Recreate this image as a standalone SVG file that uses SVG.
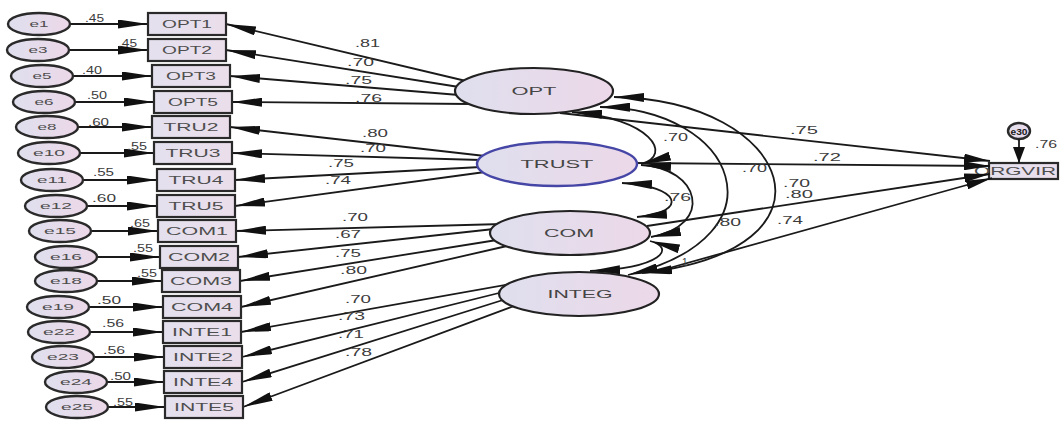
<svg xmlns="http://www.w3.org/2000/svg" width="1061" height="422" viewBox="0 0 1061 422">
  <defs>
    <linearGradient id="fillLat" x1="0" y1="0" x2="1" y2="0">
      <stop offset="0" stop-color="#dfdfee"/>
      <stop offset="1" stop-color="#ecd8e8"/>
    </linearGradient>
    <linearGradient id="fillObs" x1="0" y1="0" x2="1" y2="0">
      <stop offset="0" stop-color="#e4e0ee"/>
      <stop offset="1" stop-color="#ebdeeb"/>
    </linearGradient>
    <!-- long slim wedge used by the AMOS-style paths -->
    <marker id="ah" markerUnits="userSpaceOnUse" markerWidth="30" markerHeight="9" refX="30" refY="4.5" orient="auto-start-reverse">
      <path d="M0,0 L30,4.5 L0,9 Z" fill="#111"/>
    </marker>
    <marker id="ahm" markerUnits="userSpaceOnUse" markerWidth="26" markerHeight="9" refX="26" refY="4.5" orient="auto-start-reverse">
      <path d="M0,0 L26,4.5 L0,9 Z" fill="#111"/>
    </marker>
    <marker id="ahs" markerUnits="userSpaceOnUse" markerWidth="16" markerHeight="12" refX="16" refY="6" orient="auto">
      <path d="M0,0 L16,6 L0,12 Z" fill="#111"/>
    </marker>
  </defs>
  <style>
    text { font-family: "Liberation Sans", Arial, sans-serif; }
    .lat { fill: url(#fillLat); stroke: #222; stroke-width: 2.2; }
    .latb { fill: url(#fillLat); stroke: #4646a6; stroke-width: 2.4; }
    .obs { fill: url(#fillObs); stroke: #2a2a2a; stroke-width: 2.2; }
    .err { fill: url(#fillLat); stroke: #2a2a2a; stroke-width: 2.4; }
    .ln { fill: none; stroke: #1a1a1a; stroke-width: 1.8; }
    .a { marker-end: url(#ah); }
    .aa { marker-start: url(#ah); marker-end: url(#ah); }
    .am { marker-end: url(#ahm); }
    .nt { font-size: 10px; fill: #4e4e4e; text-anchor: middle; }
    .lt { font-size: 10px; fill: #454545; text-anchor: middle; }
    .et { font-size: 9px; fill: #4e4e4e; text-anchor: middle; }
    .v { font-size: 10px; fill: #3c3c3c; }
  </style>

  <!-- dependent observed variable and its residual (drawn under the arrowheads) -->
  <g id="ORGVIR">
    <rect class="obs" x="989" y="163" width="69" height="16"/>
    <text class="nt" x="1015" y="175" textLength="82" lengthAdjust="spacingAndGlyphs">ORGVIR</text>
  </g>
  <g id="e30">
    <ellipse class="err" cx="1019" cy="131" rx="11" ry="8"/>
    <text x="1019" y="134.5" font-size="9" font-weight="bold" fill="#1a1a1a" text-anchor="middle" textLength="17" lengthAdjust="spacingAndGlyphs">e30</text>
  </g>

  <g id="connectors">
    <!-- residual -> indicator -->
    <path class="ln a" d="M67,24 L148,24"/>
    <path class="ln a" d="M66,50 L148,50"/>
    <path class="ln a" d="M70,76 L152,76"/>
    <path class="ln a" d="M72,102 L154,102"/>
    <path class="ln a" d="M75,127 L152,127"/>
    <path class="ln a" d="M77,153 L154,153"/>
    <path class="ln a" d="M80,180 L157,180"/>
    <path class="ln a" d="M84,206 L157,206"/>
    <path class="ln a" d="M88,231 L158,231"/>
    <path class="ln a" d="M94,257 L160,257"/>
    <path class="ln a" d="M94,281 L162,281"/>
    <path class="ln a" d="M86,307 L163,307"/>
    <path class="ln a" d="M87,332 L163,332"/>
    <path class="ln a" d="M91,357 L164,357"/>
    <path class="ln a" d="M104,382 L164,382"/>
    <path class="ln a" d="M105,407 L165,407"/>

    <!-- factor loadings -->
    <path class="ln a" d="M466,81 L226,24"/>
    <path class="ln a" d="M459,87 L226,50"/>
    <path class="ln a" d="M459,95 L230,76"/>
    <path class="ln a" d="M471,104 L232,102"/>
    <path class="ln a" d="M485,156 L230,127"/>
    <path class="ln a" d="M481,160 L232,153"/>
    <path class="ln a" d="M481,167 L235,180"/>
    <path class="ln a" d="M485,172 L235,206"/>
    <path class="ln a" d="M503,224 L236,231"/>
    <path class="ln a" d="M494,229 L238,257"/>
    <path class="ln a" d="M497,240 L240,281"/>
    <path class="ln a" d="M507,246 L241,307"/>
    <path class="ln a" d="M511,284 L241,332"/>
    <path class="ln a" d="M503,292 L242,357"/>
    <path class="ln a" d="M503,300 L242,382"/>
    <path class="ln a" d="M514,306 L243,407"/>

    <!-- structural paths to ORGVIR -->
    <path class="ln am" d="M560,113 L990,161"/>
    <path class="ln am" d="M636,163 L990,166"/>
    <path class="ln am" d="M647,226 L990,174"/>
    <path class="ln am" d="M655,272 L992,178"/>
    <path class="ln" d="M1019,139 L1019,163" marker-end="url(#ahs)"/>

    <!-- covariances -->
    <path class="ln aa" d="M572,112 C650,118 674,155 641,164"/>
    <path class="ln aa" d="M622,183 C680,186 690,212 637,217"/>
    <path class="ln aa" d="M641,165 C700,168 715,225 651,237"/>
    <path class="ln aa" d="M600,107 C735,108 790,235 628,275"/>
    <path class="ln aa" d="M614,97 C792,100 852,250 642,273"/>
    <path class="ln aa" d="M650,241 C676,248 662,268 590,271"/>
  </g>

  <!-- residual terms -->
  <g id="e1"><ellipse class="err" cx="39" cy="24" rx="31" ry="11"/><text class="et" x="39" y="27" textLength="19" lengthAdjust="spacingAndGlyphs">e1</text></g>
  <g id="e3"><ellipse class="err" cx="38" cy="50" rx="31" ry="11"/><text class="et" x="38" y="53" textLength="19" lengthAdjust="spacingAndGlyphs">e3</text></g>
  <g id="e5"><ellipse class="err" cx="42" cy="76" rx="31" ry="11"/><text class="et" x="42" y="79" textLength="19" lengthAdjust="spacingAndGlyphs">e5</text></g>
  <g id="e6"><ellipse class="err" cx="44" cy="102" rx="31" ry="11"/><text class="et" x="44" y="105" textLength="19" lengthAdjust="spacingAndGlyphs">e6</text></g>
  <g id="e8"><ellipse class="err" cx="47" cy="127" rx="31" ry="11"/><text class="et" x="47" y="130" textLength="19" lengthAdjust="spacingAndGlyphs">e8</text></g>
  <g id="e10"><ellipse class="err" cx="49" cy="153" rx="31" ry="11"/><text class="et" x="49" y="156" textLength="32" lengthAdjust="spacingAndGlyphs">e10</text></g>
  <g id="e11"><ellipse class="err" cx="52" cy="180" rx="31" ry="11"/><text class="et" x="52" y="183" textLength="30" lengthAdjust="spacingAndGlyphs">e11</text></g>
  <g id="e12"><ellipse class="err" cx="56" cy="206" rx="31" ry="11"/><text class="et" x="56" y="209" textLength="32" lengthAdjust="spacingAndGlyphs">e12</text></g>
  <g id="e15"><ellipse class="err" cx="60" cy="231" rx="31" ry="11"/><text class="et" x="60" y="234" textLength="32" lengthAdjust="spacingAndGlyphs">e15</text></g>
  <g id="e16"><ellipse class="err" cx="66" cy="257" rx="31" ry="11"/><text class="et" x="66" y="260" textLength="32" lengthAdjust="spacingAndGlyphs">e16</text></g>
  <g id="e18"><ellipse class="err" cx="66" cy="281" rx="31" ry="11"/><text class="et" x="66" y="284" textLength="32" lengthAdjust="spacingAndGlyphs">e18</text></g>
  <g id="e19"><ellipse class="err" cx="58" cy="307" rx="31" ry="11"/><text class="et" x="58" y="310" textLength="32" lengthAdjust="spacingAndGlyphs">e19</text></g>
  <g id="e22"><ellipse class="err" cx="59" cy="332" rx="31" ry="11"/><text class="et" x="59" y="335" textLength="32" lengthAdjust="spacingAndGlyphs">e22</text></g>
  <g id="e23"><ellipse class="err" cx="63" cy="357" rx="31" ry="11"/><text class="et" x="63" y="360" textLength="32" lengthAdjust="spacingAndGlyphs">e23</text></g>
  <g id="e24"><ellipse class="err" cx="76" cy="382" rx="31" ry="11"/><text class="et" x="76" y="385" textLength="32" lengthAdjust="spacingAndGlyphs">e24</text></g>
  <g id="e25"><ellipse class="err" cx="77" cy="407" rx="31" ry="11"/><text class="et" x="77" y="410" textLength="32" lengthAdjust="spacingAndGlyphs">e25</text></g>

  <!-- observed indicators -->
  <g id="OPT1"><rect class="obs" x="148" y="13" width="78" height="22"/><text class="nt" x="187" y="28" textLength="50" lengthAdjust="spacingAndGlyphs">OPT1</text></g>
  <g id="OPT2"><rect class="obs" x="148" y="39" width="78" height="22"/><text class="nt" x="187" y="54" textLength="50" lengthAdjust="spacingAndGlyphs">OPT2</text></g>
  <g id="OPT3"><rect class="obs" x="152" y="65" width="78" height="22"/><text class="nt" x="191" y="80" textLength="50" lengthAdjust="spacingAndGlyphs">OPT3</text></g>
  <g id="OPT5"><rect class="obs" x="154" y="91" width="78" height="22"/><text class="nt" x="193" y="106" textLength="50" lengthAdjust="spacingAndGlyphs">OPT5</text></g>
  <g id="TRU2"><rect class="obs" x="152" y="116" width="78" height="22"/><text class="nt" x="191" y="131" textLength="55" lengthAdjust="spacingAndGlyphs">TRU2</text></g>
  <g id="TRU3"><rect class="obs" x="154" y="142" width="78" height="22"/><text class="nt" x="193" y="157" textLength="55" lengthAdjust="spacingAndGlyphs">TRU3</text></g>
  <g id="TRU4"><rect class="obs" x="157" y="169" width="78" height="22"/><text class="nt" x="196" y="184" textLength="55" lengthAdjust="spacingAndGlyphs">TRU4</text></g>
  <g id="TRU5"><rect class="obs" x="157" y="195" width="78" height="22"/><text class="nt" x="196" y="210" textLength="55" lengthAdjust="spacingAndGlyphs">TRU5</text></g>
  <g id="COM1"><rect class="obs" x="158" y="220" width="78" height="22"/><text class="nt" x="197" y="235" textLength="62" lengthAdjust="spacingAndGlyphs">COM1</text></g>
  <g id="COM2"><rect class="obs" x="160" y="246" width="78" height="22"/><text class="nt" x="199" y="261" textLength="62" lengthAdjust="spacingAndGlyphs">COM2</text></g>
  <g id="COM3"><rect class="obs" x="162" y="270" width="78" height="22"/><text class="nt" x="201" y="285" textLength="62" lengthAdjust="spacingAndGlyphs">COM3</text></g>
  <g id="COM4"><rect class="obs" x="163" y="296" width="78" height="22"/><text class="nt" x="202" y="311" textLength="62" lengthAdjust="spacingAndGlyphs">COM4</text></g>
  <g id="INTE1"><rect class="obs" x="163" y="321" width="78" height="22"/><text class="nt" x="202" y="336" textLength="60" lengthAdjust="spacingAndGlyphs">INTE1</text></g>
  <g id="INTE2"><rect class="obs" x="164" y="346" width="78" height="22"/><text class="nt" x="203" y="361" textLength="60" lengthAdjust="spacingAndGlyphs">INTE2</text></g>
  <g id="INTE4"><rect class="obs" x="164" y="371" width="78" height="22"/><text class="nt" x="203" y="386" textLength="60" lengthAdjust="spacingAndGlyphs">INTE4</text></g>
  <g id="INTE5"><rect class="obs" x="165" y="396" width="78" height="22"/><text class="nt" x="204" y="411" textLength="60" lengthAdjust="spacingAndGlyphs">INTE5</text></g>

  <!-- latent factors -->
  <g id="OPT"><ellipse class="lat" cx="534" cy="91" rx="79" ry="23"/><text class="lt" x="534" y="95" textLength="45" lengthAdjust="spacingAndGlyphs">OPT</text></g>
  <g id="TRUST"><ellipse class="latb" cx="557" cy="164" rx="80" ry="22"/><text class="lt" x="557" y="168" textLength="73" lengthAdjust="spacingAndGlyphs" fill="#3a3e50">TRUST</text></g>
  <g id="COM"><ellipse class="lat" cx="570" cy="233" rx="80" ry="22"/><text class="lt" x="569" y="237" textLength="50" lengthAdjust="spacingAndGlyphs">COM</text></g>
  <g id="INTEG"><ellipse class="lat" cx="579" cy="294" rx="80" ry="22"/><text class="lt" x="580" y="298" textLength="65" lengthAdjust="spacingAndGlyphs">INTEG</text></g>

  <!-- path coefficients -->
  <g id="coefficients">
    <text class="v" x="85" y="22" textLength="19" lengthAdjust="spacingAndGlyphs">.45</text>
    <text class="v" x="118" y="47" textLength="19" lengthAdjust="spacingAndGlyphs">.45</text>
    <text class="v" x="82" y="74" textLength="20" lengthAdjust="spacingAndGlyphs">.40</text>
    <text class="v" x="87" y="99" textLength="20" lengthAdjust="spacingAndGlyphs">.50</text>
    <text class="v" x="88" y="126" textLength="21" lengthAdjust="spacingAndGlyphs">.60</text>
    <text class="v" x="127" y="150" textLength="20" lengthAdjust="spacingAndGlyphs">.55</text>
    <text class="v" x="93" y="176" textLength="21" lengthAdjust="spacingAndGlyphs">.55</text>
    <text class="v" x="92" y="202" textLength="24" lengthAdjust="spacingAndGlyphs">.60</text>
    <text class="v" x="130" y="227" textLength="20" lengthAdjust="spacingAndGlyphs">.65</text>
    <text class="v" x="133" y="252" textLength="20" lengthAdjust="spacingAndGlyphs">.55</text>
    <text class="v" x="137" y="277" textLength="20" lengthAdjust="spacingAndGlyphs">.55</text>
    <text class="v" x="97" y="304" textLength="24" lengthAdjust="spacingAndGlyphs">.50</text>
    <text class="v" x="102" y="327" textLength="22" lengthAdjust="spacingAndGlyphs">.56</text>
    <text class="v" x="103" y="354" textLength="22" lengthAdjust="spacingAndGlyphs">.56</text>
    <text class="v" x="110" y="380" textLength="21" lengthAdjust="spacingAndGlyphs">.50</text>
    <text class="v" x="113" y="406" textLength="20" lengthAdjust="spacingAndGlyphs">.55</text>

    <text class="v" x="355" y="47" textLength="25" lengthAdjust="spacingAndGlyphs">.81</text>
    <text class="v" x="347" y="66" textLength="27" lengthAdjust="spacingAndGlyphs">.70</text>
    <text class="v" x="345" y="84" textLength="27" lengthAdjust="spacingAndGlyphs">.75</text>
    <text class="v" x="355" y="102" textLength="27" lengthAdjust="spacingAndGlyphs">.76</text>
    <text class="v" x="362" y="137" textLength="26" lengthAdjust="spacingAndGlyphs">.80</text>
    <text class="v" x="360" y="152" textLength="26" lengthAdjust="spacingAndGlyphs">.70</text>
    <text class="v" x="328" y="167" textLength="26" lengthAdjust="spacingAndGlyphs">.75</text>
    <text class="v" x="325" y="184" textLength="26" lengthAdjust="spacingAndGlyphs">.74</text>
    <text class="v" x="342" y="221" textLength="26" lengthAdjust="spacingAndGlyphs">.70</text>
    <text class="v" x="335" y="238" textLength="26" lengthAdjust="spacingAndGlyphs">.67</text>
    <text class="v" x="335" y="257" textLength="26" lengthAdjust="spacingAndGlyphs">.75</text>
    <text class="v" x="340" y="274" textLength="27" lengthAdjust="spacingAndGlyphs">.80</text>
    <text class="v" x="345" y="303" textLength="26" lengthAdjust="spacingAndGlyphs">.70</text>
    <text class="v" x="338" y="320" textLength="27" lengthAdjust="spacingAndGlyphs">.73</text>
    <text class="v" x="338" y="338" textLength="26" lengthAdjust="spacingAndGlyphs">.71</text>
    <text class="v" x="345" y="356" textLength="27" lengthAdjust="spacingAndGlyphs">.78</text>

    <text class="v" x="663" y="141" textLength="25" lengthAdjust="spacingAndGlyphs">.70</text>
    <text class="v" x="664" y="201" textLength="27" lengthAdjust="spacingAndGlyphs">.76</text>
    <text class="v" x="742" y="172" textLength="25" lengthAdjust="spacingAndGlyphs">.70</text>
    <text class="v" x="714" y="226" textLength="27" lengthAdjust="spacingAndGlyphs">.80</text>
    <text class="v" x="682" y="266" font-size="8">1</text>
    <text class="v" x="790" y="134" textLength="28" lengthAdjust="spacingAndGlyphs">.75</text>
    <text class="v" x="813" y="161" textLength="28" lengthAdjust="spacingAndGlyphs">.72</text>
    <text class="v" x="783" y="187" textLength="27" lengthAdjust="spacingAndGlyphs">.70</text>
    <text class="v" x="785" y="198" textLength="28" lengthAdjust="spacingAndGlyphs">.80</text>
    <text class="v" x="777" y="224" textLength="26" lengthAdjust="spacingAndGlyphs">.74</text>
    <text class="v" x="1035" y="148" textLength="22" lengthAdjust="spacingAndGlyphs">.76</text>
  </g>
</svg>
